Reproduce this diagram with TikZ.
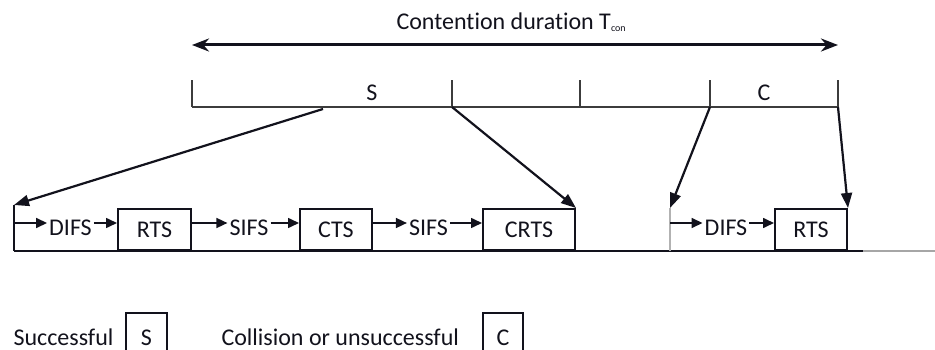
\documentclass[tikz,border=0pt]{standalone}
\usepackage{fontspec}
\setmainfont[Ligatures=NoCommon]{Carlito}
\usetikzlibrary{positioning,calc,arrows.meta}
\definecolor{ink}{RGB}{18,18,28}
\definecolor{rule}{RGB}{60,60,60}

\begin{document}
\begin{tikzpicture}[x=1pt, y=-1pt,
        every node/.style={font=\fontsize{24}{28}\selectfont, text=ink},
        slot/.style={draw=ink, line width=2pt, inner sep=0pt, minimum height=41pt},
        keybox/.style={draw=ink, line width=1.6pt, inner sep=0pt, minimum height=50pt},
        gap/.style={inner sep=2pt},
        flow/.style={-{Triangle[length=11pt,width=10pt]}, line width=1.6pt, draw=ink},
        pick/.style={-{Triangle[length=15pt,width=11pt]}, line width=2.2pt, draw=ink},
        tl/.style={line width=1.7pt, draw=rule}
    ]

        \useasboundingbox (0,0) rectangle (935,350);

        % contention span
        \coordinate (spanL) at (192,45);
        \coordinate (spanR) at (838,45);
        \draw[{Stealth[length=17pt,width=13pt]}-{Stealth[length=17pt,width=13pt]}, line width=3pt, draw=ink] (spanL) -- (spanR);
        \node[anchor=base west] (title) at (393,30) {Contention duration T\raisebox{-2pt}{\fontsize{10}{10}\selectfont con}};

        % slot timeline
        \foreach \n/\x in {0/192, 1/452, 2/580, 3/710, 4/838} {
            \coordinate (t\n) at (\x,107);
            \draw[tl] (t\n) -- ++(0,-27);
        }
        \draw[tl] (t0) -- (t4);
        \node (segS) at (372,93) {S};
        \node (segC) at (764,93) {C};

        % frame exchange
        \coordinate (baseL) at (14,251);
        \coordinate (baseM) at (863,251);
        \coordinate (baseR) at (935,251);
        \coordinate (rowA) at (0,223);
        \coordinate (topA) at (14,205);
        \coordinate (topB) at (670,208);

        \node[slot, minimum width=73pt] (rtsA) at (154.5,229.5) {RTS};
        \node[slot, minimum width=72pt] (cts) at (336,229.5) {CTS};
        \node[slot, minimum width=92pt] (crts) at (529,229.5) {CRTS};
        \node[slot, minimum width=72pt] (rtsB) at (811,229.5) {RTS};

        \node[gap] (difsA) at (70.5,228) {DIFS};
        \node[gap] (sifsA) at (249,228) {SIFS};
        \node[gap] (sifsB) at (428.5,228) {SIFS};
        \node[gap] (difsB) at (726,228) {DIFS};

        \draw[tl, draw=ink] (baseL) -- (baseM);
        \draw[tl, draw=gray!70] (baseM) -- (baseR);
        \draw[tl, draw=ink] (topA) -- (topA |- baseL);
        \draw[tl, draw=gray!60] (topB) -- (topB |- baseL);

        \draw[flow] (topA |- rowA) -- (difsA.west |- rowA);
        \draw[flow] (topB |- rowA) -- (difsB.west |- rowA);
        \foreach \a/\b in {difsA/rtsA, rtsA/sifsA, sifsA/cts, cts/sifsB, sifsB/crts, difsB/rtsB}
            \draw[flow] (\a.east |- rowA) -- (\b.west |- rowA);

        % zoom arrows
        \coordinate (fromS) at (323,109);
        \draw[pick] (fromS) -- (topA);
        \draw[pick] (t1) -- (crts.north east);
        \draw[pick] (t3) -- (topB);
        \draw[pick] (t4) -- (rtsB.north east);

        % legend
        \node[anchor=base west] (legS) at (10,345) {Successful};
        \node[keybox, minimum width=41pt] (keyS) at (146.5,338) {S};
        \node[anchor=base west] (legC) at (218,345) {Collision or unsuccessful};
        \node[keybox, minimum width=40pt] (keyC) at (503,338) {C};

    \end{tikzpicture}
\end{document}
